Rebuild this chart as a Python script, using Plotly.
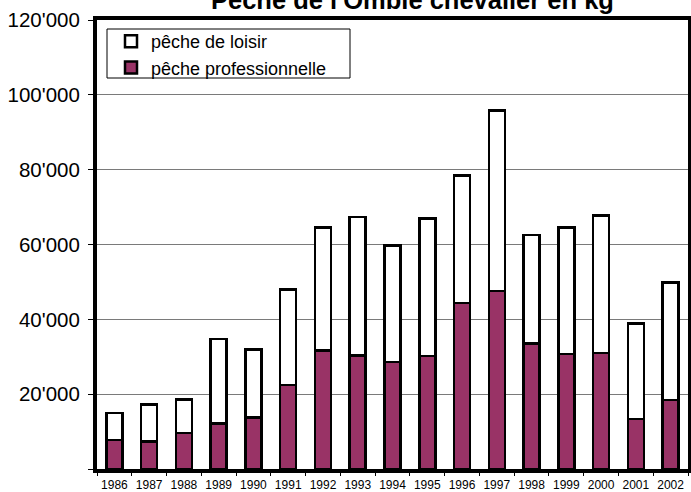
import plotly.graph_objects as go

# =====================================================
# DONNÉES (kg)
# =====================================================

annees = [str(a) for a in range(1986, 2003)]

peche_pro = [7800, 7400, 9600, 12200, 13800, 22400, 31700, 30400, 28600,
             30200, 44300, 47600, 33500, 30800, 31000, 13300, 18500]

peche_loisir = [7200, 9800, 9000, 22500, 18200, 25600, 32900, 36900, 31200,
                36700, 34200, 48200, 29000, 33800, 36700, 25600, 31300]

y_ticks = [0, 20000, 40000, 60000, 80000, 100000, 120000]
y_labels = ["" if v == 0 else f"{v:,}".replace(",", "'") for v in y_ticks]

FONT = "Liberation Sans, Arial, sans-serif"

# =====================================================
# FIGURE
# =====================================================

fig = go.Figure()

fig.add_trace(
    go.Bar(
        x=annees,
        y=peche_pro,
        name="pêche professionnelle",
        marker=dict(color="#993366", line=dict(color="black", width=2.5))
    )
)

fig.add_trace(
    go.Bar(
        x=annees,
        y=peche_loisir,
        name="pêche de loisir",
        marker=dict(color="white", line=dict(color="black", width=2.5))
    )
)

W, H = 691, 492
L, R, T, B = 97, 3, 20, 23
pw, ph = W - L - R, H - T - B


def px_x(x):
    return (x - L) / pw


def px_y(y):
    return (H - B - y) / ph


fig.update_layout(
    width=W,
    height=H,
    barmode="stack",
    bargap=0.54,
    margin=dict(l=L, r=R, t=T, b=B),
    paper_bgcolor="white",
    plot_bgcolor="white",
    font=dict(family=FONT, color="black"),
    legend=dict(
        x=px_x(111),
        y=px_y(23),
        xanchor="left",
        yanchor="top",
        traceorder="reversed",
        font=dict(size=18),
        bgcolor="rgba(0,0,0,0)",
        borderwidth=0,
        itemwidth=30,
        tracegroupgap=0
    ),
    annotations=[
        dict(
            text="<b>Pêche de l'Omble chevalier en kg</b>",
            font=dict(size=25.5, color="black"),
            xref="paper",
            yref="paper",
            x=px_x(412),
            y=px_y(10),
            xanchor="center",
            yanchor="bottom",
            yshift=-6,
            showarrow=False
        )
    ],
    shapes=[
        dict(
            type="rect",
            xref="paper",
            yref="paper",
            x0=px_x(107),
            x1=px_x(350),
            y0=px_y(78),
            y1=px_y(29),
            line=dict(color="black", width=1),
            fillcolor="rgba(0,0,0,0)",
            layer="below"
        )
    ]
)

fig.update_xaxes(
    showgrid=False,
    showline=True,
    linecolor="black",
    linewidth=4,
    mirror=True,
    ticks="outside",
    tickson="boundaries",
    ticklen=3,
    tickcolor="black",
    tickangle=0,
    automargin=False,
    tickfont=dict(size=12),
    ticklabelstandoff=2
)

fig.update_yaxes(
    range=[0, 120000],
    tickvals=y_ticks,
    ticktext=y_labels,
    showgrid=True,
    gridcolor="#7a7a7a",
    gridwidth=1.3,
    zeroline=False,
    showline=True,
    linecolor="black",
    linewidth=4,
    mirror=True,
    ticks="outside",
    ticklen=5,
    tickcolor="black",
    automargin=False,
    tickfont=dict(size=20.5),
    ticklabelstandoff=4
)

fig.write_html(
    "out.html",
    config={"displayModeBar": False},
    post_script="document.body.style.margin = '0';"
)
